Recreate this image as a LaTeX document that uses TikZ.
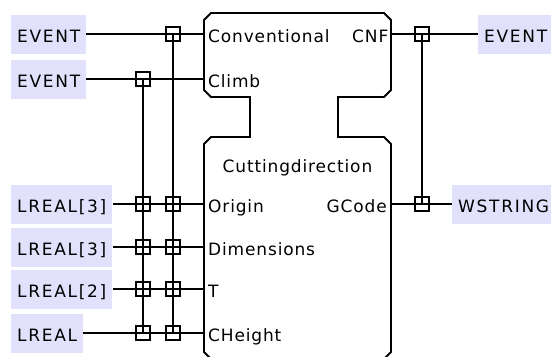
\documentclass[tikz,border=0pt]{standalone}
\usepackage{fontspec}
\usepackage{xcolor}
\usepackage{tikz}
\newfontfamily\fbfamily{DejaVu Sans}[LetterSpace=5]
\newfontfamily\fbtypefamily{DejaVu Sans}[LetterSpace=10]
\newcommand{\fbfont}{\fbfamily\fontsize{17pt}{20pt}\selectfont}
\newcommand{\fbtypefont}{\fbtypefamily\fontsize{17pt}{20pt}\selectfont}
\definecolor{fbfill}{RGB}{225,225,252}
\tikzset{
  fbtype/.style={fill=fbfill, anchor=west, minimum height=39pt, inner xsep=6pt,
    inner ysep=0pt, text height=21pt, text depth=4pt, font=\fbtypefont},
  fbpin/.style={anchor=west, inner xsep=4pt, inner ysep=0pt,
    text height=21pt, text depth=4pt, font=\fbfont},
  fbwire/.style={line width=1.3pt},
  fbjoin/.style={draw, line width=1.2pt, minimum size=14pt, inner sep=0pt},
  fbbody/.style={line width=1.8pt}
}

\begin{document}
\begin{tikzpicture}[x=1pt, y=-1pt]
\useasboundingbox (0,0) rectangle (551,356);
\clip (0,0) rectangle (551,356);
% block outline
\draw[fbbody] (204,20) -- (211,13) -- (384,13) -- (391,20) -- (391,90) -- (384,97)
  -- (338,97) -- (338,137) -- (384,137) -- (391,144) -- (391,352) -- (384,359)
  -- (211,359) -- (204,352) -- (204,144) -- (211,137) -- (250,137) -- (250,97)
  -- (211,97) -- (204,90) -- cycle;
\node[fbpin, anchor=base] (fbname) at (297.5,172) {Cuttingdirection};
% pins
\node[fbpin] (pConv) at (204,34) {Conventional};
\node[fbpin] (pClimb) at (204,79) {Climb};
\node[fbpin] (pOrigin) at (204,204) {Origin};
\node[fbpin] (pDim) at (204,247) {Dimensions};
\node[fbpin] (pT) at (204,289) {T};
\node[fbpin] (pCH) at (204,333) {CHeight};
\node[fbpin, anchor=east, inner xsep=2.5pt] (pCNF) at (391,34) {CNF};
\node[fbpin, anchor=east] (pGCode) at (391,204) {GCode};
% types
\node[fbtype] (tConv) at (11,34) {EVENT};
\node[fbtype] (tClimb) at (11,79) {EVENT};
\node[fbtype] (tOrigin) at (11,204) {LREAL[3]};
\node[fbtype] (tDim) at (11,247) {LREAL[3]};
\node[fbtype] (tT) at (11,289) {LREAL[2]};
\node[fbtype] (tCH) at (11,333) {LREAL};
\node[fbtype] (tCNF) at (478,34) {EVENT};
\node[fbtype] (tGCode) at (452,204) {WSTRING};
% wires
\draw[fbwire] (tConv) -- (pConv);
\draw[fbwire] (tClimb) -- (pClimb);
\draw[fbwire] (tOrigin) -- (pOrigin);
\draw[fbwire] (tDim) -- (pDim);
\draw[fbwire] (tT) -- (pT);
\draw[fbwire] (tCH) -- (pCH);
\draw[fbwire] (pCNF) -- (tCNF);
\draw[fbwire] (pGCode) -- (tGCode);
% with-joins
\node[fbjoin] (jA2) at (143,79) {};
\node[fbjoin] (jA3) at (143,204) {};
\node[fbjoin] (jA4) at (143,247) {};
\node[fbjoin] (jA5) at (143,289) {};
\node[fbjoin] (jA6) at (143,333) {};
\node[fbjoin] (jB1) at (173,34) {};
\node[fbjoin] (jB3) at (173,204) {};
\node[fbjoin] (jB4) at (173,247) {};
\node[fbjoin] (jB5) at (173,289) {};
\node[fbjoin] (jB6) at (173,333) {};
\node[fbjoin] (jC1) at (422,34) {};
\node[fbjoin] (jC3) at (422,204) {};
\draw[fbwire] (jA2.center) -- (jA6.center);
\draw[fbwire] (jB1.center) -- (jB6.center);
\draw[fbwire] (jC1.center) -- (jC3.center);
\end{tikzpicture}
\end{document}
